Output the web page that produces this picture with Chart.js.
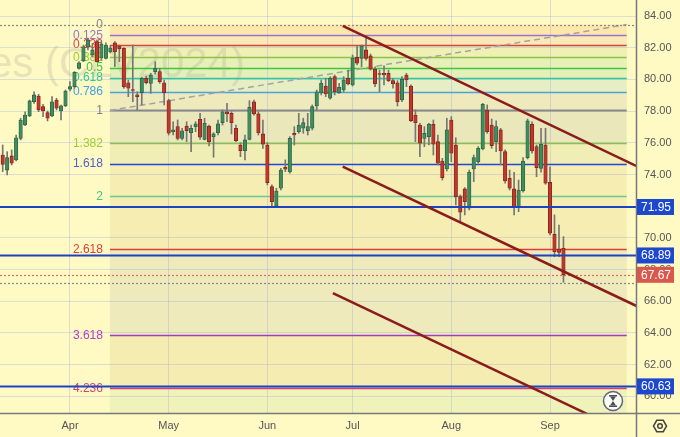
<!DOCTYPE html>
<html>
<head>
<meta charset="utf-8">
<script src="https://cdn.jsdelivr.net/npm/chart.js@4.4.0/dist/chart.umd.min.js"></script>
<style>
  html, body { margin: 0; padding: 0; background: #fff9c4; }
  #wrapper { width: 680px; height: 437px; }
</style>
</head>
<body>
<div id="wrapper"><canvas id="chart"></canvas></div>
<script>
// daily candles, CLV2024, mid-March .. Sep 6 (bar index 0 = Apr 1)
const firstBar = -15;
const opens = [
  75.23,74.28,75.17,74.92,76.28,77.12,77.69,78.59,78.95,78.28,
  77.90,77.69,78.70,78.01,78.34,79.38,79.54,80.70,81.16,82.05,
  81.54,82.38,81.35,81.33,81.73,82.30,82.11,81.96,79.79,79.36,
  79.02,79.17,80.07,79.75,80.49,80.49,79.79,78.66,76.70,77.02,
  76.28,77.06,76.64,77.02,77.48,76.22,77.06,76.39,76.64,77.27,
  77.96,77.86,76.92,75.86,75.50,76.22,78.59,77.82,76.56,75.86,
  73.23,72.01,73.13,74.45,74.16,76.60,76.70,76.92,76.76,76.92,
  78.32,79.16,79.58,78.81,80.17,79.16,79.33,80.07,79.65,81.39,
  81.33,81.86,81.48,80.64,80.34,80.38,80.38,79.92,79.79,78.70,
  80.28,79.58,77.75,77.12,76.28,76.39,77.17,76.07,74.85,74.35,
  77.44,75.86,72.60,73.09,71.87,74.35,74.81,75.61,78.07,77.12,
  76.07,76.81,75.44,73.76,73.09,71.97,72.96,75.06,77.17,75.76,
  74.39,75.86,73.51,70.23,69.30,69.34
];
const highs = [
  75.86,75.44,75.55,76.49,77.55,77.96,78.70,79.22,79.06,78.43,
  78.01,78.91,78.81,78.38,79.33,79.86,80.49,81.12,82.17,82.61,
  82.23,82.49,82.42,82.30,82.11,82.38,82.17,82.00,79.96,82.17,
  79.22,80.13,80.21,80.39,81.12,80.70,79.96,78.75,77.33,77.44,
  76.91,77.33,77.12,77.33,77.86,77.55,77.12,76.64,77.44,78.07,
  78.49,77.96,77.12,76.01,76.49,78.66,78.70,77.96,77.44,76.01,
  73.34,73.13,74.39,74.92,76.39,77.02,77.86,77.55,77.86,78.39,
  79.33,79.96,80.07,80.17,80.28,79.75,80.17,80.59,81.54,82.11,
  82.17,82.69,81.60,80.80,80.59,80.85,80.59,80.07,79.92,80.17,
  80.39,79.65,78.07,77.23,77.02,77.23,77.44,76.49,75.02,77.55,
  77.65,76.32,72.71,73.17,74.28,75.23,75.76,78.49,78.39,77.50,
  77.38,76.91,75.55,74.28,74.14,73.65,75.06,77.50,77.33,75.86,
  76.91,76.91,74.49,71.45,70.81,70.08
];
const lows = [
  74.18,73.97,74.60,74.85,76.18,77.08,77.65,78.49,77.96,77.65,
  77.38,77.65,78.07,77.44,78.28,79.27,79.44,80.64,81.12,81.86,
  81.41,81.10,81.22,81.29,81.67,80.80,81.12,79.44,78.91,78.59,
  78.07,78.39,79.71,79.12,80.34,79.75,78.39,76.49,76.49,76.18,
  76.18,76.07,75.44,76.70,76.22,76.18,75.80,75.09,76.49,77.12,
  77.33,76.56,76.07,75.12,74.92,76.18,77.75,76.49,75.65,73.34,
  72.01,71.97,73.02,74.18,74.08,75.86,76.60,76.60,76.49,76.81,
  78.07,79.02,78.91,78.75,79.02,79.12,79.22,79.65,79.58,80.91,
  80.80,81.22,80.59,79.54,79.22,79.65,79.86,79.44,78.32,78.59,
  79.54,77.33,76.07,75.12,75.75,75.86,75.23,74.60,73.65,74.22,
  74.81,72.08,71.02,71.45,71.76,73.55,74.71,75.55,76.60,75.65,
  75.44,74.60,73.45,73.02,71.45,71.65,72.88,74.98,75.34,73.86,
  74.14,73.38,70.18,68.81,68.81,67.20
];
const closes = [
  74.64,75.06,74.71,76.32,77.44,77.75,78.64,79.02,78.07,78.01,
  77.55,78.59,78.18,78.34,79.27,79.54,80.45,81.05,82.06,82.49,
  81.86,81.12,82.23,82.17,81.98,81.73,81.92,79.54,79.44,79.30,
  78.91,80.07,79.79,80.28,80.70,79.86,79.16,76.60,76.81,76.28,
  76.76,76.76,76.92,77.19,76.35,77.23,76.07,76.56,77.19,77.96,
  77.82,77.27,76.13,75.50,76.18,78.24,77.82,76.64,75.92,73.48,
  72.28,72.96,74.28,74.33,76.28,76.49,77.12,77.27,77.02,78.28,
  79.22,79.75,79.08,80.07,79.22,79.50,79.96,79.71,81.33,81.02,
  82.11,81.33,80.64,79.71,80.31,80.28,79.92,79.71,78.59,80.01,
  79.96,77.40,77.27,75.97,76.60,77.17,75.91,74.71,73.80,76.81,
  75.34,72.60,71.62,72.28,74.14,75.06,75.65,78.43,76.70,75.82,
  77.02,75.48,73.59,73.13,71.91,73.02,74.85,77.38,75.48,74.43,
  75.91,73.45,70.29,69.13,69.09,67.67
];

const monthLabels = ['Apr', 'May', 'Jun', 'Jul', 'Aug', 'Sep'];
const monthBars = [0, 22, 44, 63, 85, 107];
const priceTicks = [60, 62, 64, 66, 68, 70, 72, 74, 76, 78, 80, 82, 84];

// fibonacci retracement
const fibHigh = 83.46, fibLow = 78.04;
const fibFrom = 8.9, fibTo = 124.1;
const fibRatios = [0, 0.125, 0.236, 0.382, 0.5, 0.618, 0.786, 1, 1.382, 1.618, 2, 2.618, 3.618, 4.236];
const fibLabels = ['0', '0.125', '0.236', '0.382', '0.5', '0.618', '0.786', '1', '1.382', '1.618', '2', '2.618', '3.618', '4.236'];

// drawn lines
const levelLines = [71.95, 68.89, 60.63];
const lastPrice = 67.67;
const lowPrice = 67.15;
const channelLines = [
  [[60.8, 83.37], [126.2, 74.54]],
  [[60.8, 74.49], [126.3, 65.70]],
  [[58.6, 66.52], [118.1, 58.51]]
];

// styles
const fibLineColors = ['#8a8a8a', '#9575cd', '#d8443c', '#8bc34a', '#3dc73d', '#2ec99a', '#4ba3dc', '#8a8a8a',
  '#8bc34a', '#2545e0', '#66cc99', '#e03c3c', '#a040b8', '#d6407a'];
const fibTextColors = ['#888888', '#9575cd', '#e0443c', '#9acd32', '#3dc73d', '#2ec99a', '#42a0e0', '#808080',
  '#9acd32', '#5060c8', '#44c38a', '#e03c3c', '#b040c8', '#d6407a'];
const bandColors = ['rgba(250,170,80,0.22)', 'rgba(230,140,120,0.16)', 'rgba(160,200,110,0.18)', 'rgba(120,200,120,0.18)',
  'rgba(110,200,140,0.18)', 'rgba(130,190,200,0.18)', 'rgba(150,150,150,0.15)', 'rgba(150,160,150,0.2)',
  'rgba(170,190,110,0.18)', 'rgba(190,175,80,0.16)', 'rgba(190,175,80,0.16)', 'rgba(160,165,150,0.18)',
  'rgba(190,170,80,0.17)', 'rgba(150,210,120,0.14)'];

const bars = opens.map((o, i) => firstBar + i);
const up = opens.map((o, i) => closes[i] >= o);

const drawings = {
  id: 'drawings',
  beforeDraw(chart) {
    const ctx = chart.ctx;
    ctx.save();
    ctx.fillStyle = '#fff9c4';
    ctx.fillRect(0, 0, chart.width, chart.height);
    ctx.font = '42px "Liberation Sans", Arial, sans-serif';
    ctx.fillStyle = 'rgba(110,110,110,0.16)';
    ctx.textAlign = 'right';
    ctx.textBaseline = 'alphabetic';
    ctx.fillText('Light Crude Oil Futures (CLV2024)', 245, 77);
    ctx.restore();
  },
  beforeDatasetsDraw(chart) {
    const {ctx, chartArea: a, scales: {x, y}} = chart;
    const range = fibHigh - fibLow;
    const xl = x.getPixelForValue(fibFrom), xr = x.getPixelForValue(fibTo);
    ctx.save();
    ctx.beginPath();
    ctx.rect(a.left, a.top, a.width, a.height);
    ctx.clip();
    fibRatios.forEach((r, i) => {
      const next = i + 1 < fibRatios.length ? fibRatios[i + 1] : 4.618;
      const y1 = y.getPixelForValue(fibHigh - r * range);
      const y2 = y.getPixelForValue(fibHigh - next * range);
      ctx.fillStyle = bandColors[i];
      ctx.fillRect(xl, y1, xr - xl, y2 - y1);
    });
    fibRatios.forEach((r, i) => {
      if (i === 0) return;
      const yy = Math.round(y.getPixelForValue(fibHigh - r * range)) + 0.5;
      ctx.strokeStyle = fibLineColors[i];
      ctx.lineWidth = r === 1 ? 2 : 1.5;
      ctx.beginPath();
      ctx.moveTo(xl, yy);
      ctx.lineTo(xr, yy);
      ctx.stroke();
    });
    // trend line of the retracement
    ctx.setLineDash([6, 4]);
    ctx.strokeStyle = '#a3a3a3';
    ctx.lineWidth = 1.5;
    ctx.beginPath();
    ctx.moveTo(xl, y.getPixelForValue(fibLow));
    ctx.lineTo(xr, y.getPixelForValue(fibHigh));
    ctx.stroke();
    // dotted top / last / low lines
    ctx.setLineDash([2, 2]);
    [[fibHigh, '#8a8a8a'], [lastPrice, '#e0705a'], [lowPrice, '#8a8a8a']].forEach(([p, c]) => {
      const yy = Math.round(y.getPixelForValue(p)) + 0.5;
      ctx.strokeStyle = c;
      ctx.lineWidth = 1.2;
      ctx.beginPath();
      ctx.moveTo(a.left, yy);
      ctx.lineTo(a.right, yy);
      ctx.stroke();
    });
    ctx.setLineDash([]);
    ctx.font = '12px "Liberation Sans", Arial, sans-serif';
    ctx.textAlign = 'right';
    ctx.textBaseline = 'middle';
    fibRatios.forEach((r, i) => {
      ctx.fillStyle = fibTextColors[i];
      ctx.fillText(fibLabels[i], xl - 7, y.getPixelForValue(fibHigh - r * range));
    });
    ctx.restore();
  },
  afterDatasetsDraw(chart) {
    const {ctx, chartArea: a, scales: {x, y}} = chart;
    ctx.save();
    ctx.beginPath();
    ctx.rect(a.left, a.top, a.width, a.height);
    ctx.clip();
    levelLines.forEach(p => {
      const yy = y.getPixelForValue(p);
      ctx.strokeStyle = '#1d42c2';
      ctx.lineWidth = 2;
      ctx.beginPath();
      ctx.moveTo(a.left, yy);
      ctx.lineTo(a.right, yy);
      ctx.stroke();
    });
    ctx.strokeStyle = '#8b1c1c';
    ctx.lineWidth = 2.5;
    channelLines.forEach(([p1, p2]) => {
      ctx.beginPath();
      ctx.moveTo(x.getPixelForValue(p1[0]), y.getPixelForValue(p1[1]));
      ctx.lineTo(x.getPixelForValue(p2[0]), y.getPixelForValue(p2[1]));
      ctx.stroke();
    });
    // hourglass button
    const cx = a.right - 23, cy = a.bottom - 12;
    ctx.fillStyle = 'rgba(255,255,255,0.75)';
    ctx.strokeStyle = '#5d6680';
    ctx.lineWidth = 1.5;
    ctx.beginPath();
    ctx.arc(cx, cy, 9.5, 0, Math.PI * 2);
    ctx.fill();
    ctx.stroke();
    ctx.fillStyle = '#4a5063';
    ctx.fillRect(cx - 4, cy - 6, 8, 1.5);
    ctx.fillRect(cx - 4, cy + 4.5, 8, 1.5);
    ctx.beginPath();
    ctx.moveTo(cx - 3, cy - 4.5); ctx.lineTo(cx + 3, cy - 4.5); ctx.lineTo(cx, cy); ctx.closePath();
    ctx.moveTo(cx - 3, cy + 4.5); ctx.lineTo(cx + 3, cy + 4.5); ctx.lineTo(cx, cy); ctx.closePath();
    ctx.fill();
    ctx.restore();
  },
  afterDraw(chart) {
    const {ctx, chartArea: a, scales: {y}} = chart;
    ctx.save();
    ctx.strokeStyle = '#787878';
    ctx.lineWidth = 1.5;
    ctx.beginPath();
    ctx.moveTo(a.right + 0.5, 0);
    ctx.lineTo(a.right + 0.5, chart.height);
    ctx.moveTo(0, a.bottom + 0.5);
    ctx.lineTo(chart.width, a.bottom + 0.5);
    ctx.stroke();
    ctx.font = '12px "Liberation Sans", Arial, sans-serif';
    ctx.textAlign = 'center';
    ctx.textBaseline = 'middle';
    levelLines.concat([lastPrice]).forEach(p => {
      const yy = y.getPixelForValue(p);
      ctx.fillStyle = p === lastPrice ? '#d9574b' : '#1b48cc';
      ctx.fillRect(a.right + 1, yy - 8, 37, 16);
      ctx.fillStyle = '#ffffff';
      ctx.fillText(p.toFixed(2), a.right + 20, yy + 0.5);
    });
    // settings gear in the corner
    const gx = a.right + 24, gy = a.bottom + 13;
    ctx.strokeStyle = '#444';
    ctx.lineWidth = 1.5;
    ctx.beginPath();
    for (let k = 0; k < 6; k++) {
      const ang = Math.PI / 3 * k;
      const px = gx + 6.5 * Math.cos(ang), py = gy + 6.5 * Math.sin(ang);
      if (k === 0) ctx.moveTo(px, py); else ctx.lineTo(px, py);
    }
    ctx.closePath();
    ctx.stroke();
    ctx.beginPath();
    ctx.arc(gx, gy, 2.3, 0, Math.PI * 2);
    ctx.stroke();
    ctx.restore();
  }
};

Chart.defaults.font.family = '"Liberation Sans", Arial, sans-serif';
Chart.defaults.font.size = 11;

new Chart('chart', {
  type: 'bar',
  data: {
    datasets: [
      {
        label: 'wick',
        data: bars.map((b, i) => ({x: b, y: [lows[i], highs[i]]})),
        backgroundColor: '#767676',
        barThickness: 1,
        grouped: false,
        order: 2
      },
      {
        label: 'body',
        data: bars.map((b, i) => ({x: b, y: [opens[i], closes[i]]})),
        backgroundColor: up.map(u => u ? '#3f8d5e' : '#c0372e'),
        borderColor: up.map(u => u ? '#2a6242' : '#82231b'),
        borderWidth: 0.8,
        borderSkipped: false,
        barThickness: 3.5,
        minBarLength: 1,
        grouped: false,
        order: 1
      }
    ]
  },
  options: {
    responsive: true,
    maintainAspectRatio: false,
    animation: false,
    events: [],
    layout: { padding: 0 },
    plugins: { legend: { display: false }, tooltip: { enabled: false } },
    scales: {
      x: {
        type: 'linear',
        offset: false,
        min: -15.6,
        max: 126.17,
        afterBuildTicks: s => { s.ticks = monthBars.map(v => ({value: v})); },
        afterFit: s => { s.height = 24; s.paddingLeft = 0; s.paddingRight = 0; },
        ticks: {
          color: '#555',
          padding: 6,
          maxRotation: 0,
          callback: v => monthLabels[monthBars.indexOf(v)]
        },
        grid: { color: 'rgba(165,180,230,0.4)', drawTicks: false, offset: false },
        border: { display: false }
      },
      y: {
        type: 'linear',
        position: 'right',
        min: 58.95,
        max: 85.01,
        afterBuildTicks: s => { s.ticks = priceTicks.map(v => ({value: v})); },
        afterFit: s => { s.width = 44; s.paddingTop = 0; s.paddingBottom = 0; },
        ticks: { color: '#555', padding: 8, callback: v => v.toFixed(2) },
        grid: { color: 'rgba(165,180,230,0.4)', drawTicks: false },
        border: { display: false }
      }
    }
  },
  plugins: [drawings]
});
</script>
</body>
</html>
